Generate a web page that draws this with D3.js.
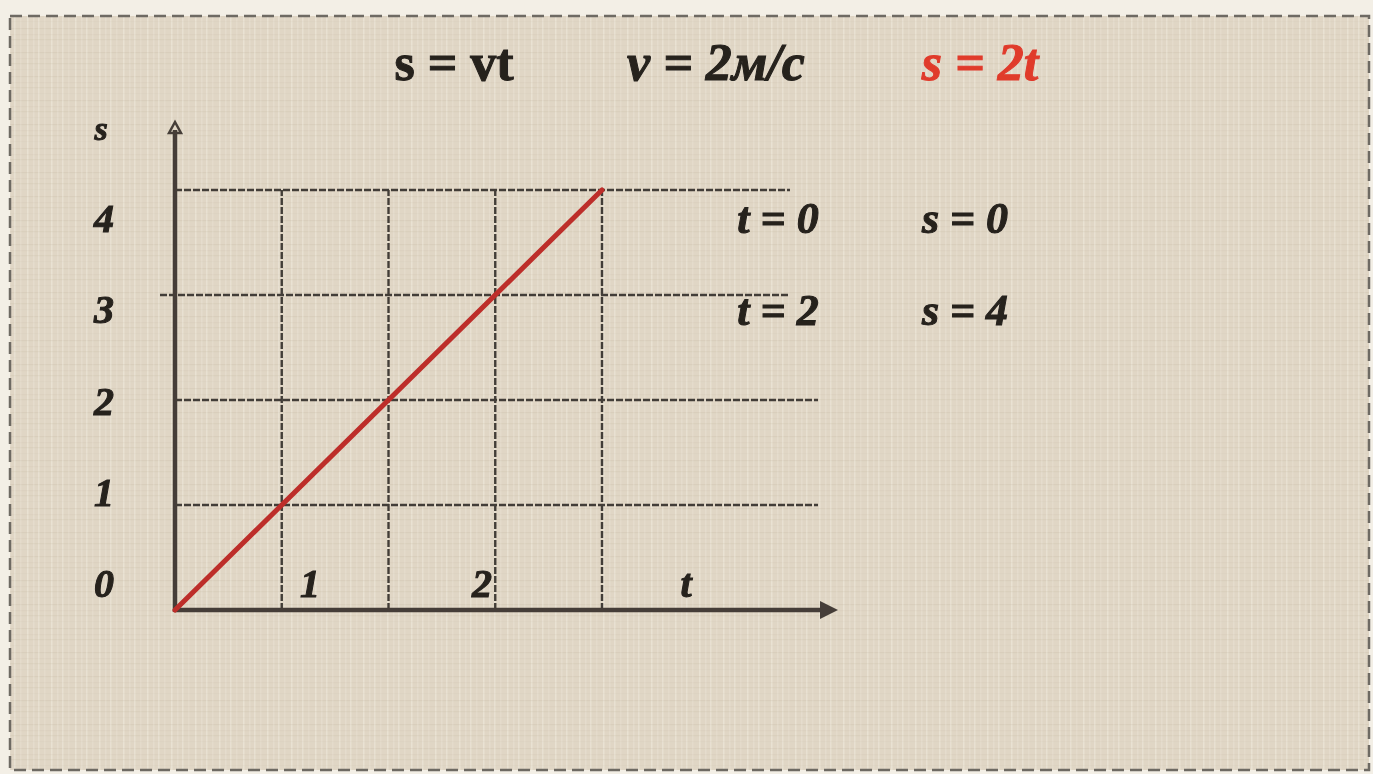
<!DOCTYPE html>
<html>
<head>
<meta charset="utf-8">
<script src="https://cdn.jsdelivr.net/npm/d3@7"></script>
<style>
  html, body { margin: 0; padding: 0; background: #f4f1ea; }
  svg { display: block; }
</style>
</head>
<body>
<svg id="chart" width="1373" height="774"></svg>
<script>
// Motion law s = v·t with v = 2 m/s
const velocity = 2;
const timeValues = [0, 2];
const distanceValues = timeValues.map(t => velocity * t); // [0, 4]
const gridT = [0.5, 1, 1.5, 2];
const gridS = [1, 2, 3, 4];
const sTickLabels = ["0", "1", "2", "3", "4"];
const tTickLabels = ["1", "2"];
const formulaLabels = ["s = vt", "v = 2м/с", "s = 2t"];
const tableT = ["t = 0", "t = 2"];
const tableS = ["s = 0", "s = 4"];

const W = 1373, H = 774;
const svg = d3.select("#chart");
const defs = svg.append("defs");

// Linen texture for the board
const pat = defs.append("pattern").attr("id", "linen")
  .attr("patternUnits", "userSpaceOnUse").attr("width", 24).attr("height", 24);
pat.append("rect").attr("width", 24).attr("height", 24).attr("fill", "#e0d6c5");
[[3, 0.18], [9, 0.10], [14, 0.16], [20, 0.08]].forEach(([p, o]) => {
  pat.append("rect").attr("x", p).attr("y", 0).attr("width", 1.5).attr("height", 24)
    .attr("fill", "#fbf6ec").attr("opacity", o * 2);
  pat.append("rect").attr("x", 0).attr("y", p + 1).attr("width", 24).attr("height", 1.2)
    .attr("fill", "#b9ad98").attr("opacity", o);
});
defs.append("filter").attr("id", "soft")
  .append("feGaussianBlur").attr("stdDeviation", 0.5);

const root = svg.append("g").attr("filter", "url(#soft)");

root.append("rect").attr("x", 0).attr("y", 0).attr("width", W).attr("height", H).attr("fill", "#f3efe6");
root.append("rect").attr("x", 10).attr("y", 16).attr("width", W - 14).attr("height", H - 20)
  .attr("fill", "url(#linen)");
root.append("rect").attr("x", 10).attr("y", 16).attr("width", W - 14).attr("height", H - 20)
  .attr("fill", "none").attr("stroke", "#6e6a64").attr("stroke-width", 2.5)
  .attr("stroke-dasharray", "12 6");

// Scales
const x = d3.scaleLinear().domain([0, 2]).range([175, 602]);
const y = d3.scaleLinear().domain([0, 4]).range([610, 190]);
// Tick labels sit on their own spacing
const yLab = d3.scaleLinear().domain([0, 4]).range([583, 218]);
const xLab = d3.scaleLinear().domain([1, 2]).range([310, 482]);

const gridColor = "#433d37";
// horizontal grid lines
const hExtent = { 1: [175, 818], 2: [175, 818], 3: [160, 790], 4: [175, 790] };
root.append("g").selectAll("line").data(gridS).join("line")
  .attr("x1", d => hExtent[d][0]).attr("x2", d => hExtent[d][1])
  .attr("y1", d => y(d)).attr("y2", d => y(d))
  .attr("stroke", gridColor).attr("stroke-width", 2.4)
  .attr("stroke-dasharray", "7 2");
// vertical grid lines
root.append("g").selectAll("line").data(gridT).join("line")
  .attr("x1", d => x(d)).attr("x2", d => x(d))
  .attr("y1", y(0)).attr("y2", y(4))
  .attr("stroke", gridColor).attr("stroke-width", 2.4)
  .attr("stroke-dasharray", "7 2");

// Axes with arrows
const axisColor = "#443e37";
root.append("line").attr("x1", x(0)).attr("x2", x(0)).attr("y1", y(0) + 2).attr("y2", 130)
  .attr("stroke", axisColor).attr("stroke-width", 4.5);
root.append("path").attr("d", `M${x(0) - 6},${133} L${x(0)},${122} L${x(0) + 6},${133} Z`)
  .attr("fill", "none").attr("stroke", axisColor).attr("stroke-width", 2.5);
root.append("line").attr("x1", x(0)).attr("x2", 826).attr("y1", y(0)).attr("y2", y(0))
  .attr("stroke", axisColor).attr("stroke-width", 4.5);
root.append("path").attr("d", `M820,${y(0) - 9} L838,${y(0)} L820,${y(0) + 9} Z`)
  .attr("fill", axisColor);

// s(t) line
const line = d3.line().x(d => x(d[0])).y(d => y(d[1]));
root.append("path").datum(timeValues.map((t, i) => [t, distanceValues[i]]))
  .attr("d", line).attr("fill", "none").attr("stroke", "#bd2d29")
  .attr("stroke-width", 5).attr("stroke-linecap", "round");

const font = "'Liberation Serif', 'Times New Roman', serif";
const textColor = "#25211d";

function label(sel, size) {
  return sel.attr("text-anchor", "middle").attr("dy", "0.35em")
    .attr("font-family", font).attr("font-weight", "bold").attr("font-size", size)
    .attr("stroke-width", 1).attr("paint-order", "stroke");
}

// Axis labels
label(root.append("g").selectAll("text").data(sTickLabels).join("text"), 40)
  .attr("x", 104).attr("y", (d, i) => yLab(i)).attr("font-style", "italic")
  .attr("fill", textColor).attr("stroke", textColor).text(d => d);
label(root.append("g").selectAll("text").data(tTickLabels).join("text"), 40)
  .attr("x", (d, i) => xLab(i + 1)).attr("y", 583).attr("font-style", "italic")
  .attr("fill", textColor).attr("stroke", textColor).text(d => d);
label(root.append("text"), 34).attr("x", 101).attr("y", 128).attr("font-style", "italic")
  .attr("fill", textColor).attr("stroke", textColor).text("s");
label(root.append("text"), 40).attr("x", 686).attr("y", 583).attr("font-style", "italic")
  .attr("fill", textColor).attr("stroke", textColor).text("t");

// Formulas across the top
const formulaX = [454, 716, 980];
const formulaColor = [textColor, textColor, "#e03a2c"];
label(root.append("g").selectAll("text").data(formulaLabels).join("text"), 52)
  .attr("x", (d, i) => formulaX[i]).attr("y", 62)
  .attr("font-style", (d, i) => i === 0 ? "normal" : "italic")
  .attr("fill", (d, i) => formulaColor[i]).attr("stroke", (d, i) => formulaColor[i])
  .text(d => d);

// Value table
label(root.append("g").selectAll("text").data(tableT).join("text"), 44)
  .attr("x", 778).attr("y", (d, i) => yLab(4 - i)).attr("font-style", "italic")
  .attr("fill", textColor).attr("stroke", textColor).text(d => d);
label(root.append("g").selectAll("text").data(tableS).join("text"), 44)
  .attr("x", 965).attr("y", (d, i) => yLab(4 - i)).attr("font-style", "italic")
  .attr("fill", textColor).attr("stroke", textColor).text(d => d);
</script>
</body>
</html>
